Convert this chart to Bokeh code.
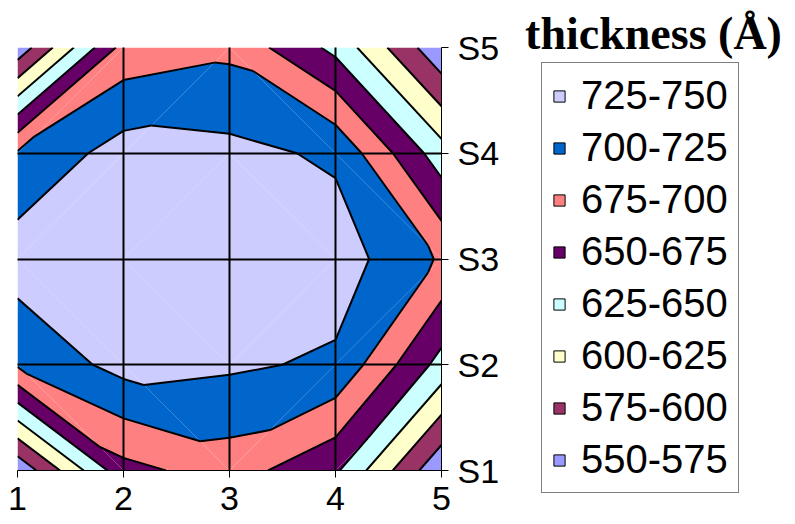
import numpy as np
from bokeh.plotting import figure
from bokeh.layouts import row
from bokeh.models import Range1d, FixedTicker, Legend, LegendItem, Label
from bokeh.embed import file_html
from bokeh.resources import INLINE

# ---- data ----
x_positions = [1, 2, 3, 4, 5]
x_tick_labels = ["1", "2", "3", "4", "5"]
row_labels = ["S1", "S2", "S3", "S4", "S5"]
row_S1 = [555, 667, 687, 654, 554]
row_S2 = [703, 734, 729, 721, 641]
row_S3 = [738, 747, 738, 738, 697]
row_S4 = [703, 736, 732, 721, 636]
row_S5 = [558, 684, 694, 643, 555]
band_edges = [550, 575, 600, 625, 650, 675, 700, 725, 750]
band_labels = ["550-575", "575-600", "600-625", "625-650",
               "650-675", "675-700", "700-725", "725-750"]
band_colors = ["#9999FF", "#993366", "#FFFFCC", "#CCFFFF",
               "#660066", "#FF8080", "#0066CC", "#CCCCFF"]
legend_title = "thickness (Å)"

Z = np.array([row_S1, row_S2, row_S3, row_S4, row_S5], dtype=float)
y_positions = list(range(1, len(row_labels) + 1))

# ---- triangulate each grid cell (diagonal joining the pair with larger mean) ----
tris = []
for j in range(len(y_positions) - 1):
    for i in range(len(x_positions) - 1):
        x0, x1 = x_positions[i], x_positions[i + 1]
        y0, y1 = y_positions[j], y_positions[j + 1]
        bl = (x0, y0, Z[j, i]); br = (x1, y0, Z[j, i + 1])
        tl = (x0, y1, Z[j + 1, i]); tr = (x1, y1, Z[j + 1, i + 1])
        if bl[2] + tr[2] >= tl[2] + br[2]:
            tris += [[bl, br, tr], [bl, tr, tl]]
        else:
            tris += [[tl, bl, br], [tl, br, tr]]


def clip_half(pts, level, keep_above):
    out = []
    n = len(pts)
    for k in range(n):
        a = pts[k]; b = pts[(k + 1) % n]
        ina = a[2] >= level if keep_above else a[2] <= level
        inb = b[2] >= level if keep_above else b[2] <= level
        if ina:
            out.append(a)
        if ina != inb:
            t = (level - a[2]) / (b[2] - a[2])
            out.append((a[0] + t * (b[0] - a[0]), a[1] + t * (b[1] - a[1]), level))
    return out


p = figure(width=520, height=524, x_range=Range1d(1, 5), y_range=Range1d(1, 5),
           y_axis_location="right", output_backend="svg", toolbar_location=None,
           min_border_left=17, min_border_right=79, min_border_top=47, min_border_bottom=54)
p.background_fill_color = "white"
p.border_fill_color = "white"
p.outline_line_color = None

# filled bands
for k in range(len(band_labels)):
    lo, hi = band_edges[k], band_edges[k + 1]
    bx, by = [], []
    for tri in tris:
        poly = clip_half(clip_half(tri, lo, True), hi, False)
        if len(poly) >= 3:
            bx.append([q[0] for q in poly])
            by.append([q[1] for q in poly])
    p.patches(xs=bx, ys=by, fill_color=band_colors[k], line_color=None)

# contour lines
lx, ly = [], []
for L in band_edges[1:-1]:
    for tri in tris:
        pts = []
        for a, b in ((tri[0], tri[1]), (tri[1], tri[2]), (tri[2], tri[0])):
            if (a[2] - L) * (b[2] - L) < 0:
                t = (L - a[2]) / (b[2] - a[2])
                pts.append((a[0] + t * (b[0] - a[0]), a[1] + t * (b[1] - a[1])))
        if len(pts) == 2:
            lx.append([pts[0][0], pts[1][0]])
            ly.append([pts[0][1], pts[1][1]])
p.multi_line(xs=lx, ys=ly, line_color="black", line_width=2)

# grid
for g, ticks in ((p.xgrid, x_positions), (p.ygrid, y_positions)):
    g.ticker = FixedTicker(ticks=ticks)
    g.grid_line_color = "black"
    g.grid_line_width = 2
    g.level = "guide"

# axes
p.xaxis.ticker = FixedTicker(ticks=x_positions)
p.xaxis.major_label_overrides = {x: s for x, s in zip(x_positions, x_tick_labels)}
p.yaxis.ticker = FixedTicker(ticks=y_positions)
p.yaxis.major_label_overrides = {y: s for y, s in zip(y_positions, row_labels)}
for ax in (p.xaxis, p.yaxis):
    ax.major_label_text_font = "Liberation Sans"
    ax.major_label_text_font_size = "34px"
    ax.major_label_text_color = "black"
    ax.axis_line_color = "black"
    ax.major_tick_line_color = "black"
    ax.major_tick_in = 0
    ax.major_tick_out = 7
    ax.minor_tick_line_color = None
p.xaxis.major_label_standoff = 9
p.yaxis.major_label_standoff = 9

# ---- legend panel ----
p2 = figure(width=275, height=524, x_range=Range1d(0, 1), y_range=Range1d(0, 1),
            x_axis_location=None, y_axis_location=None, output_backend="svg",
            toolbar_location=None, min_border=0)
p2.grid.visible = False
p2.outline_line_color = None
p2.background_fill_color = "white"
p2.border_fill_color = "white"
for fig in (p, p2):
    try:
        fig.frame_align = False
    except Exception:
        pass

items = []
for k in reversed(range(len(band_labels))):
    lo, hi = band_edges[k], band_edges[k + 1]
    r = p2.quad(left=[lo], right=[hi], top=[hi], bottom=[lo], fill_color=band_colors[k],
                line_color="black", line_width=1)
    r.visible = False
    items.append(LegendItem(label=band_labels[k], renderers=[r]))
legend = Legend(items=items, location=(21, 31))
legend.border_line_color = "black"
legend.border_line_width = 1
legend.background_fill_color = "white"
legend.background_fill_alpha = 1
legend.label_text_font = "Liberation Sans"
legend.label_text_font_size = "40px"
legend.label_text_color = "black"
legend.glyph_width = 14
legend.glyph_height = 14
legend.label_standoff = 15
legend.label_height = 38
legend.spacing = 7
legend.padding = 10
legend.margin = 0
legend.click_policy = "none"
p2.add_layout(legend, "center")

p2.add_layout(Label(x=133, y=491, x_units="screen", y_units="screen", text=legend_title,
                    text_align="center", text_baseline="alphabetic",
                    text_font="Liberation Serif", text_font_style="bold",
                    text_font_size="46px", text_color="black"))

open("out.html", "w").write(file_html(row(p, p2), INLINE))
